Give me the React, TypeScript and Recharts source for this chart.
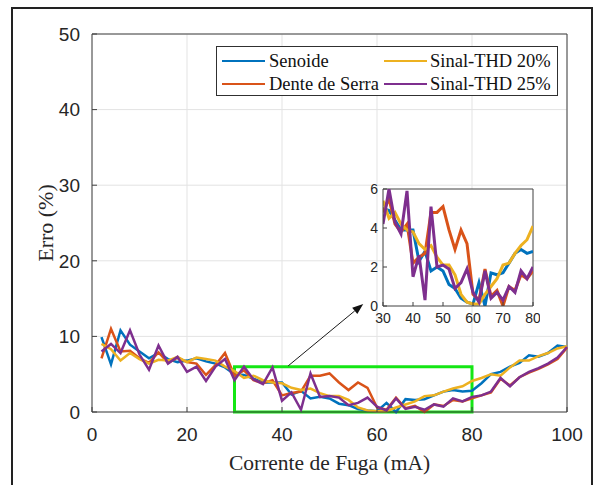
import React from 'react'
import {
  LineChart, Line, XAxis, YAxis, CartesianGrid,
  ReferenceLine, ReferenceArea,
} from 'recharts'

// leakage current (mA), one sample every 2 mA
const CURRENT = [
  2, 4, 6, 8, 10, 12, 14, 16, 18, 20, 22, 24, 26, 28, 30, 32, 34, 36, 38, 40,
  42, 44, 46, 48, 50, 52, 54, 56, 58, 60, 62, 64, 66, 68, 70, 72, 74, 76, 78, 80,
  82, 84, 86, 88, 90, 92, 94, 96, 98, 100,
]

// error (%) per waveform
const SENOIDE = [
  9.9, 6.3, 10.8, 8.9, 8.0, 7.1, 7.8, 7.0, 6.6, 6.8, 7.1, 6.7, 6.4, 5.9, 5.0,
  4.9, 4.4, 3.9, 3.9, 3.9, 2.3, 2.8, 1.8, 2.0, 1.8, 1.1, 0.9, 0.4, 0.2, 0.1,
  1.2, 0.0, 1.7, 1.6, 1.7, 2.2, 2.7, 2.9, 2.7, 2.8,
  3.8, 5.0, 5.3, 6.0, 6.5, 7.5, 7.3, 7.8, 8.8, 8.6,
]
const DENTE_SERRA = [
  7.1, 11.0, 8.0, 8.1, 7.1, 6.5, 7.9, 6.5, 7.2, 6.6, 6.4, 4.9, 6.2, 7.8, 4.8,
  5.5, 4.2, 3.8, 4.2, 2.2, 2.5, 2.7, 4.8, 4.8, 5.1, 3.9, 2.9, 3.9, 3.2, 0.6,
  0.3, 1.9, 0.5, 0.8, 0.0, 1.0, 0.8, 1.6, 1.4, 1.8,
  2.2, 2.6, 4.4, 3.5, 4.6, 5.2, 5.7, 6.3, 7.0, 8.5,
]
const THD20 = [
  9.0, 8.3, 6.8, 7.8, 7.0, 6.4, 6.9, 6.8, 7.3, 6.6, 7.2, 7.0, 6.8, 6.0, 5.4,
  4.5, 4.8, 4.2, 3.9, 3.8, 3.2, 2.9, 3.1, 2.5, 2.1, 2.1, 1.6, 0.6, 0.2, 0.1,
  0.1, 0.6, 1.0, 1.4, 2.1, 2.2, 2.7, 3.1, 3.4, 4.1,
  4.5, 5.0, 4.8, 5.9, 6.8, 6.8, 7.4, 7.8, 8.4, 8.7,
]
const THD25 = [
  8.0, 9.0, 7.8, 10.8, 7.6, 5.6, 8.8, 6.4, 7.3, 5.3, 6.0, 4.1, 6.0, 7.0, 4.2,
  6.0, 4.3, 3.7, 5.9, 1.5, 2.6, 0.3, 5.1, 2.0, 2.1, 1.9, 0.9, 1.2, 1.9, 0.7,
  0.2, 1.8, 0.4, 0.7, 0.3, 1.0, 0.7, 1.8, 1.4, 2.0,
  2.2, 2.7, 4.5, 3.4, 4.6, 5.3, 5.8, 6.4, 7.2, 8.6,
]

const SERIES_KEYS = ['senoide', 'dente', 'thd20', 'thd25']
const SERIES_NAMES = ['Senoide', 'Dente de Serra', 'Sinal-THD 20%', 'Sinal-THD 25%']

const X_TICKS = [0, 20, 40, 60, 80, 100]
const Y_TICKS = [0, 10, 20, 30, 40, 50]
const INSET_X_TICKS = [30, 40, 50, 60, 70, 80]
const INSET_Y_TICKS = [0, 2, 4, 6]

// zoomed region and the arrow pointing at the inset (data units)
const ZOOM_X = [30, 80]
const ZOOM_Y = [0, 6]
const ARROW_FROM = { x: 41.3, y: 6.1 }
const ARROW_TO = { x: 57.1, y: 14.3 }

const COLORS: Record<string, string> = {
  senoide: '#0072BD',
  dente: '#D95319',
  thd20: '#EDB120',
  thd25: '#7E2F8E',
}

const data = CURRENT.map((x, i) => ({
  x,
  senoide: SENOIDE[i],
  dente: DENTE_SERRA[i],
  thd20: THD20[i],
  thd25: THD25[i],
}))
const insetData = data.filter(d => d.x >= ZOOM_X[0] && d.x <= ZOOM_X[1])

const AXIS = '#404040'
const TEXT = '#262626'
const SANS = '"Liberation Sans", Arial, sans-serif'
const SERIF = '"Liberation Serif", "Times New Roman", serif'

function XTitle(props: any) {
  const vb = props.viewBox ?? { x: 92, y: 412, width: 475 }
  return (
    <text x={vb.x + vb.width / 2} y={vb.y + 51} textAnchor="middle" dominantBaseline="central"
      fontFamily={SERIF} fontSize={21.5} fill={TEXT}>
      Corrente de Fuga (mA)
    </text>
  )
}

function YTitle(props: any) {
  const vb = props.viewBox ?? { x: 32, y: 34, height: 378 }
  const cx = vb.x + 13
  const cy = vb.y + vb.height / 2
  return (
    <text x={cx} y={cy} transform={`rotate(-90 ${cx} ${cy})`} textAnchor="middle"
      dominantBaseline="central" fontFamily={SERIF} fontSize={22} fill={TEXT}>
      Erro (%)
    </text>
  )
}

function Arrow(props: any) {
  const { x1, y1, x2, y2 } = props
  const ang = Math.atan2(y2 - y1, x2 - x1)
  const len = 11, half = 4
  const bx = x2 - len * Math.cos(ang)
  const by = y2 - len * Math.sin(ang)
  const nx = -Math.sin(ang) * half
  const ny = Math.cos(ang) * half
  return (
    <g>
      <line x1={x1} y1={y1} x2={bx} y2={by} stroke="#1a1a1a" strokeWidth={1} />
      <polygon points={`${x2},${y2} ${bx + nx},${by + ny} ${bx - nx},${by - ny}`} fill="#111" />
    </g>
  )
}

function MainChart() {
  return (
    <LineChart width={598} height={485} data={data} margin={{ top: 34, right: 31, bottom: 43, left: 32 }}>
      <CartesianGrid stroke="#e3e3e3" />
      <XAxis
        type="number" dataKey="x" domain={[0, 100]} ticks={X_TICKS} height={30}
        stroke={AXIS} tickSize={-5} tickMargin={21}
        tick={{ fill: TEXT, fontSize: 19, fontFamily: SANS }}
        label={XTitle}
      />
      <YAxis
        type="number" domain={[0, 50]} ticks={Y_TICKS} width={60}
        stroke={AXIS} tickSize={-5} tickMargin={17}
        tick={{ fill: TEXT, fontSize: 19, fontFamily: SANS }}
        label={YTitle}
      />
      <ReferenceLine y={50} stroke={AXIS} />
      <ReferenceLine x={100} stroke={AXIS} />
      {SERIES_KEYS.map(k => (
        <Line key={k} type="linear" dataKey={k} stroke={COLORS[k]} strokeWidth={2.5}
          dot={false} isAnimationActive={false} />
      ))}
      <ReferenceArea x1={ZOOM_X[0]} x2={ZOOM_X[1]} y1={ZOOM_Y[0]} y2={ZOOM_Y[1]}
        fill="none" fillOpacity={0} stroke="#14e614" strokeWidth={3} strokeOpacity={1} />
      <ReferenceLine segment={[ARROW_FROM, ARROW_TO]} shape={Arrow} />
    </LineChart>
  )
}

function InsetChart() {
  return (
    <LineChart width={200} height={150} data={insetData} margin={{ top: 9, right: 7, bottom: 2, left: 13 }}>
      <CartesianGrid horizontal={false} vertical={false} fill="#fff" fillOpacity={1} />
      <XAxis
        type="number" dataKey="x" domain={ZOOM_X} ticks={INSET_X_TICKS} height={22}
        stroke={AXIS} tickSize={-4} tickMargin={11} allowDataOverflow
        tick={{ fill: TEXT, fontSize: 14, fontFamily: SANS }}
      />
      <YAxis
        type="number" domain={ZOOM_Y} ticks={INSET_Y_TICKS} width={30}
        stroke={AXIS} tickSize={-4} tickMargin={9} allowDataOverflow
        tick={{ fill: TEXT, fontSize: 14, fontFamily: SANS }}
      />
      <ReferenceLine y={ZOOM_Y[1]} stroke={AXIS} />
      <ReferenceLine x={ZOOM_X[1]} stroke={AXIS} />
      {SERIES_KEYS.map(k => (
        <Line key={k} type="linear" dataKey={k} stroke={COLORS[k]} strokeWidth={3}
          dot={false} isAnimationActive={false} />
      ))}
    </LineChart>
  )
}

function LegendBox() {
  const lineX = [5, 167]
  const textX = [52, 213]
  const rowY = [14, 37]
  return (
    <div style={{
      position: 'absolute', left: 216, top: 46, width: 342, height: 50,
      border: '1px solid #303030', background: '#fff', boxSizing: 'border-box',
      fontFamily: SERIF, fontSize: 18.5, color: '#111',
    }}>
      {SERIES_KEYS.map((k, i) => {
        const col = Math.floor(i / 2)
        const row = i % 2
        return (
          <React.Fragment key={k}>
            <div style={{
              position: 'absolute', left: lineX[col], top: rowY[row] - 1.25,
              width: 43, height: 2.5, background: COLORS[k],
            }} />
            <div style={{
              position: 'absolute', left: textX[col], top: rowY[row],
              transform: 'translateY(-50%)', lineHeight: 1, whiteSpace: 'nowrap',
            }}>
              {SERIES_NAMES[i]}
            </div>
          </React.Fragment>
        )
      })}
    </div>
  )
}

export default function App() {
  return (
    <div style={{
      position: 'absolute', left: 0, top: 0, width: 598, height: 485,
      background: '#fff', overflow: 'hidden',
    }}>
      <div style={{
        position: 'absolute', left: 11, top: 7, width: 582, height: 520,
        border: '2px solid #222', boxSizing: 'border-box',
      }} />
      <div style={{ position: 'absolute', left: 0, top: 0 }}>
        <MainChart />
      </div>
      <div style={{ position: 'absolute', left: 340, top: 180 }}>
        <InsetChart />
      </div>
      <LegendBox />
    </div>
  )
}
